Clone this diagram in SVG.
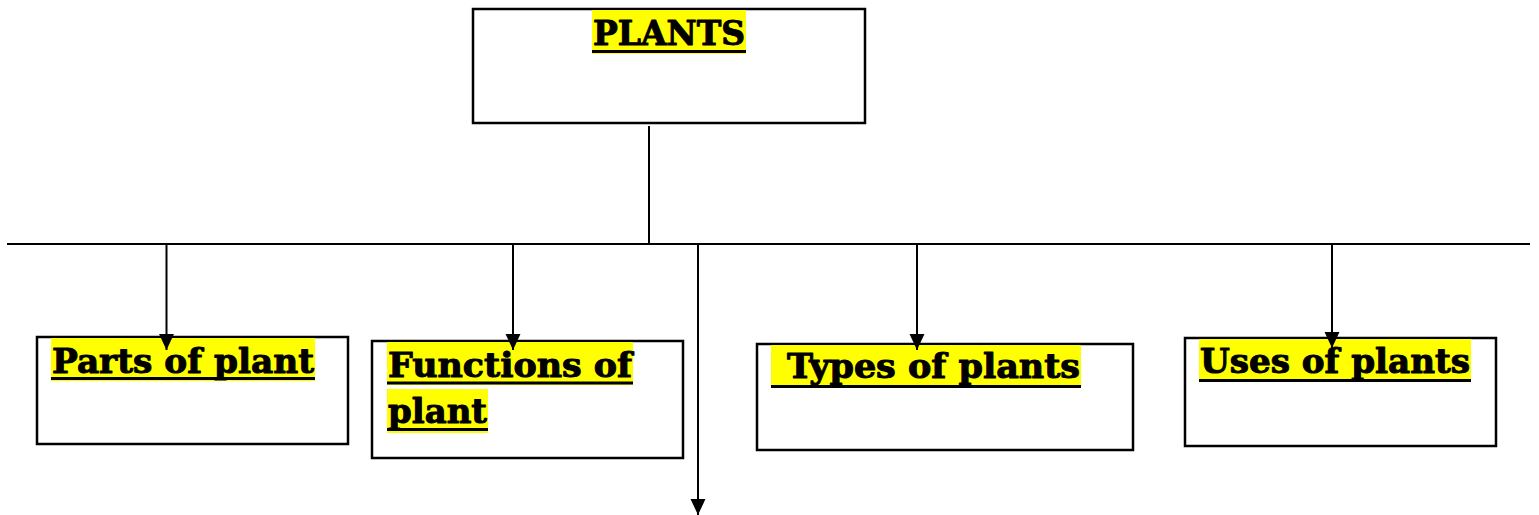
<svg xmlns="http://www.w3.org/2000/svg" width="1539" height="515" viewBox="0 0 1539 515">
<style>
.box{fill:none;stroke:#000;stroke-width:2.5}
.hl{fill:#ffff00}
.ul{fill:#000}
.lbl{font-family:"DejaVu Serif","Liberation Serif",serif;font-weight:bold;font-size:33px;fill:#000;stroke:#000;stroke-width:1;stroke-linejoin:round}
.con{stroke:#000;stroke-width:2;fill:none}
</style>
<defs>
<marker id="tri" markerUnits="userSpaceOnUse" markerWidth="16" markerHeight="16" viewBox="0 0 15 14" refX="15" refY="7" orient="auto">
<path d="M0,0 L15,7 L0,14 Z" fill="#000"/>
</marker>
</defs>
<rect width="1539" height="515" fill="#fff"/>
<g id="node-plants">
<rect class="box" x="473" y="9" width="392" height="114"/>
<rect class="hl" x="592" y="10" width="154" height="44"/>
<text class="lbl" x="593" y="45" font-size="34" textLength="152" lengthAdjust="spacingAndGlyphs">PLANTS</text>
<rect class="ul" x="592" y="50" width="154" height="3"/>
</g>
<g id="node-parts">
<rect class="box" x="37" y="337" width="311" height="107"/>
<rect class="hl" x="51" y="338" width="264" height="43"/>
<text class="lbl" x="52" y="373" textLength="262" lengthAdjust="spacingAndGlyphs">Parts of plant</text>
<rect class="ul" x="51" y="377" width="264" height="3"/>
</g>
<g id="node-functions">
<rect class="box" x="372" y="341" width="311" height="117"/>
<rect class="hl" x="387" y="342" width="246" height="43"/>
<text class="lbl" x="388" y="377" textLength="244" lengthAdjust="spacingAndGlyphs">Functions of</text>
<rect class="ul" x="387" y="381.5" width="246" height="3"/>
<rect class="hl" x="387" y="389" width="101" height="44"/>
<text class="lbl" x="388" y="423" textLength="99" lengthAdjust="spacingAndGlyphs">plant</text>
<rect class="ul" x="387" y="428" width="101" height="3"/>
</g>
<g id="node-types">
<rect class="box" x="757" y="344" width="376" height="106"/>
<rect class="hl" x="771" y="345" width="310" height="43"/>
<text class="lbl" x="787" y="378" textLength="293" lengthAdjust="spacingAndGlyphs">Types of plants</text>
<rect class="ul" x="771" y="385" width="310" height="3"/>
</g>
<g id="node-uses">
<rect class="box" x="1185" y="338" width="311" height="108"/>
<rect class="hl" x="1199" y="339" width="272" height="43"/>
<text class="lbl" x="1200" y="373" textLength="270" lengthAdjust="spacingAndGlyphs">Uses of plants</text>
<rect class="ul" x="1199" y="379" width="272" height="3"/>
</g>
<g id="connectors">
<line class="con" x1="649" y1="126" x2="649" y2="244"/>
<line class="con" x1="7" y1="244" x2="1530" y2="244"/>
<line class="con" x1="166.5" y1="244" x2="166.5" y2="350" marker-end="url(#tri)"/>
<line class="con" x1="513" y1="244" x2="513" y2="350" marker-end="url(#tri)"/>
<line class="con" x1="698" y1="244" x2="698" y2="515" marker-end="url(#tri)"/>
<line class="con" x1="917" y1="244" x2="917" y2="350" marker-end="url(#tri)"/>
<line class="con" x1="1332" y1="244" x2="1332" y2="348" marker-end="url(#tri)"/>
</g>
</svg>
